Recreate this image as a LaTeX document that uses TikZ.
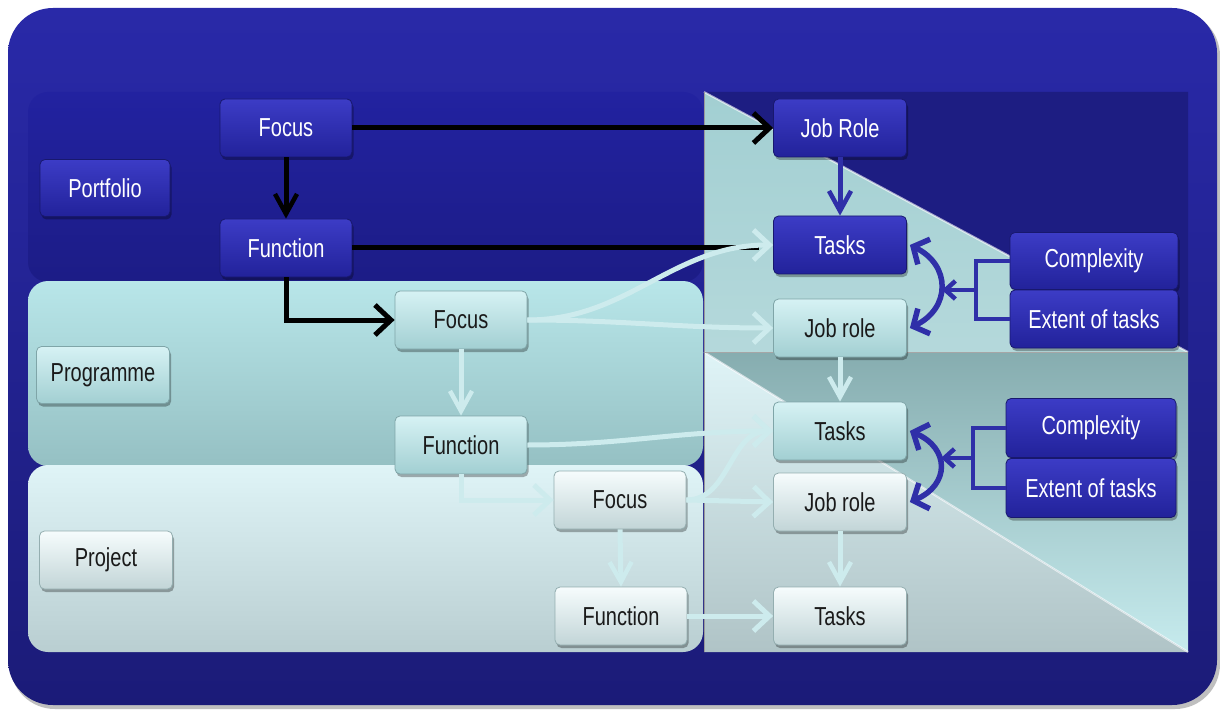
\documentclass[tikz,border=0pt]{standalone}
\usepackage{fontspec}
\setmainfont{Liberation Sans}[FakeStretch=0.77]
\usetikzlibrary{arrows.meta,shadows,calc}
\definecolor{frameTop}{HTML}{2929A8}
\definecolor{frameBot}{HTML}{1B1B78}
\definecolor{portTop}{HTML}{2222A0}
\definecolor{portBot}{HTML}{1C1C86}
\definecolor{navyTri}{HTML}{1D1D82}
\definecolor{navyTop}{HTML}{3C3CC6}
\definecolor{navyBot}{HTML}{22229A}
\definecolor{navyEdge}{HTML}{18186E}
\definecolor{tealTop}{HTML}{D6F2F4}
\definecolor{tealBot}{HTML}{A2CFD2}
\definecolor{tealEdge}{HTML}{7FA5A8}
\definecolor{paleTop}{HTML}{F6FCFD}
\definecolor{paleBot}{HTML}{C2D5D7}
\definecolor{paleEdge}{HTML}{94AEB0}
\definecolor{progTop}{HTML}{B8E6E9}
\definecolor{progBot}{HTML}{95C0C3}
\definecolor{projTop}{HTML}{DFF4F7}
\definecolor{projBot}{HTML}{B9CED1}
\definecolor{darkText}{HTML}{1A1A1A}
\definecolor{lightArrow}{HTML}{CDEBED}
\definecolor{navyLine}{HTML}{2F2FA8}
\begin{document}
\begin{tikzpicture}[x=1pt,y=-1pt,
  nbox/.style={rounded corners=5pt, minimum width=132pt, minimum height=58pt, inner sep=0pt,
    font=\fontsize{26}{30}\selectfont, line width=0.8pt,
    drop shadow={shadow xshift=1.5pt,shadow yshift=-3pt,opacity=0.3,fill=black}},
  navybox/.style={nbox, draw=navyEdge, top color=navyTop, bottom color=navyBot, text=white},
  tealbox/.style={nbox, draw=tealEdge, top color=tealTop, bottom color=tealBot, text=darkText},
  palebox/.style={nbox, draw=paleEdge, top color=paleTop, bottom color=paleBot, text=darkText},
  blk/.style={draw=black, line width=5pt},
  lgt/.style={draw=lightArrow, line width=5pt},
  nvy/.style={draw=navyLine, line width=5pt},
  htip/.style={-{Straight Barb[length=16pt,width=30pt,line width=5pt]}},
  vtip/.style={-{Straight Barb[length=20pt,width=22pt,line width=4.5pt]}},
  atip/.style={{Straight Barb[length=12pt,width=28pt,line width=5.5pt]}-{Straight Barb[length=12pt,width=28pt,line width=5.5pt]}},
  stip/.style={-{Straight Barb[length=10pt,width=18pt,line width=4.5pt]}}
]
\useasboundingbox (0,0) rectangle (1220,711);
\fill[white] (0,0) rectangle (1220,711);
% outer frame
\fill[black!25] (10,11) [rounded corners=45pt] rectangle (1220,709);
\shade[top color=frameTop, bottom color=frameBot, rounded corners=45pt] (8,8) rectangle (1217,705);
% right panel, top part
\fill[navyTri] (704,92) -- (1188,92) -- (1188,352) -- cycle;
\shade[top color=tealBot, bottom color=tealBot!80!white] (704,92) -- (1188,352) -- (704,352) -- cycle;
% right panel, bottom part
\shade[top color=progBot!90!black, bottom color=progTop!80!white] (704,352) -- (1188,352) -- (1188,652) -- cycle;
\shade[top color=projTop, bottom color=projBot!95!black] (704,352) -- (1188,652) -- (704,652) -- cycle;
\draw[white, opacity=0.6, line width=2pt] (704,92) -- (1188,352);
\draw[white, opacity=0.6, line width=2pt] (704,352) -- (1188,652);
\draw[gray!70, line width=1pt] (704,352) -- (1188,352);
\draw[gray!80, line width=1pt] (704,92) -- (704,652);
% bands
\shade[top color=portTop, bottom color=portBot, rounded corners=20pt] (28,92) rectangle (703,282);
\shade[top color=progTop, bottom color=progBot, rounded corners=20pt] (28,281) rectangle (703,466);
\shade[top color=projTop, bottom color=projBot, rounded corners=20pt] (28,465) rectangle (703,652);

% nodes - left
\node[navybox, minimum width=130pt, minimum height=57pt] (port) at (105,188) {Portfolio};
\node[tealbox, minimum width=133pt, minimum height=57pt] (prog) at (103,375) {Programme};
\node[palebox, minimum width=133pt, minimum height=58pt] (proj) at (106,560) {Project};
\node[navybox] (foc1) at (286,128) {Focus};
\node[navybox] (fun1) at (286,248) {Function};
\node[tealbox] (foc2) at (461,320) {Focus};
\node[tealbox] (fun2) at (461,445) {Function};
\node[palebox] (foc3) at (620,500) {Focus};
\node[palebox] (fun3) at (621,616) {Function};
% nodes - right
\node[navybox, minimum width=133pt] (jr0) at (840,128) {Job Role};
\node[navybox, minimum width=133pt] (ts1) at (840,245) {Tasks};
\node[tealbox, minimum width=133pt] (jr1) at (840,328) {Job role};
\node[tealbox, minimum width=133pt] (ts2) at (840,431) {Tasks};
\node[palebox, minimum width=133pt] (jr2) at (840,502) {Job role};
\node[palebox, minimum width=133pt] (ts3) at (840,616) {Tasks};
\node[navybox, minimum width=168pt, minimum height=57pt] (cx1) at (1094,261) {Complexity};
\node[navybox, minimum width=168pt, minimum height=58pt] (ex1) at (1094,319) {Extent of tasks};
\node[navybox, minimum width=170pt, minimum height=59pt] (cx2) at (1091,428) {Complexity};
\node[navybox, minimum width=170pt, minimum height=59pt] (ex2) at (1091,488) {Extent of tasks};

% black connectors
\draw[blk, htip] (foc1.east) -- (jr0.west);
\draw[blk, vtip] (foc1.south) -- (fun1.north);
\draw[blk, shorten >=14pt] (fun1.east) -- (fun1.east -| ts1.west);
\draw[blk, htip] (fun1.south) |- (foc2.west);

% light connectors
\draw[lgt, htip] (foc2.east) to[out=0,in=180] (ts1.west);
\draw[lgt, htip] (foc2.east) to[out=0,in=180] (jr1.west);
\draw[lgt, vtip] (foc2.south) -- (fun2.north);
\draw[lgt, htip] (fun2.east) to[out=0,in=180] (ts2.west);
\draw[lgt, htip] (fun2.south) |- (foc3.west);
\draw[lgt, htip] (foc3.east) to[out=0,in=180] (ts2.west);
\draw[lgt, htip] (foc3.east) -- (jr2.west);
\draw[lgt, vtip] (foc3.south) -- (fun3.north);
\draw[lgt, htip] (fun3.east) -- (ts3.west);
\draw[lgt, vtip] (jr1.south) -- (ts2.north);
\draw[lgt, vtip] (jr2.south) -- (ts3.north);

% navy connectors
\draw[nvy, vtip] (jr0.south) -- (ts1.north);
\coordinate (b1) at (976,290);
\coordinate (m1) at (942,290);
\draw[nvy, line width=4.5pt] (cx1.west) -| (b1) |- (ex1.west);
\draw[nvy, line width=4.5pt, stip] (b1) -- (m1);
\draw[nvy, line width=5.5pt, atip] ([xshift=3pt]ts1.east) .. controls (951,265) and (951,308) .. ([xshift=3pt]jr1.east);
\coordinate (b2) at (973,458);
\coordinate (m2) at (941,458);
\draw[nvy, line width=4.5pt] (cx2.west) -| (b2) |- (ex2.west);
\draw[nvy, line width=4.5pt, stip] (b2) -- (m2);
\draw[nvy, line width=5.5pt, atip] ([xshift=3pt]ts2.east) .. controls (950,448) and (950,485) .. ([xshift=3pt]jr2.east);
\end{tikzpicture}
\end{document}
